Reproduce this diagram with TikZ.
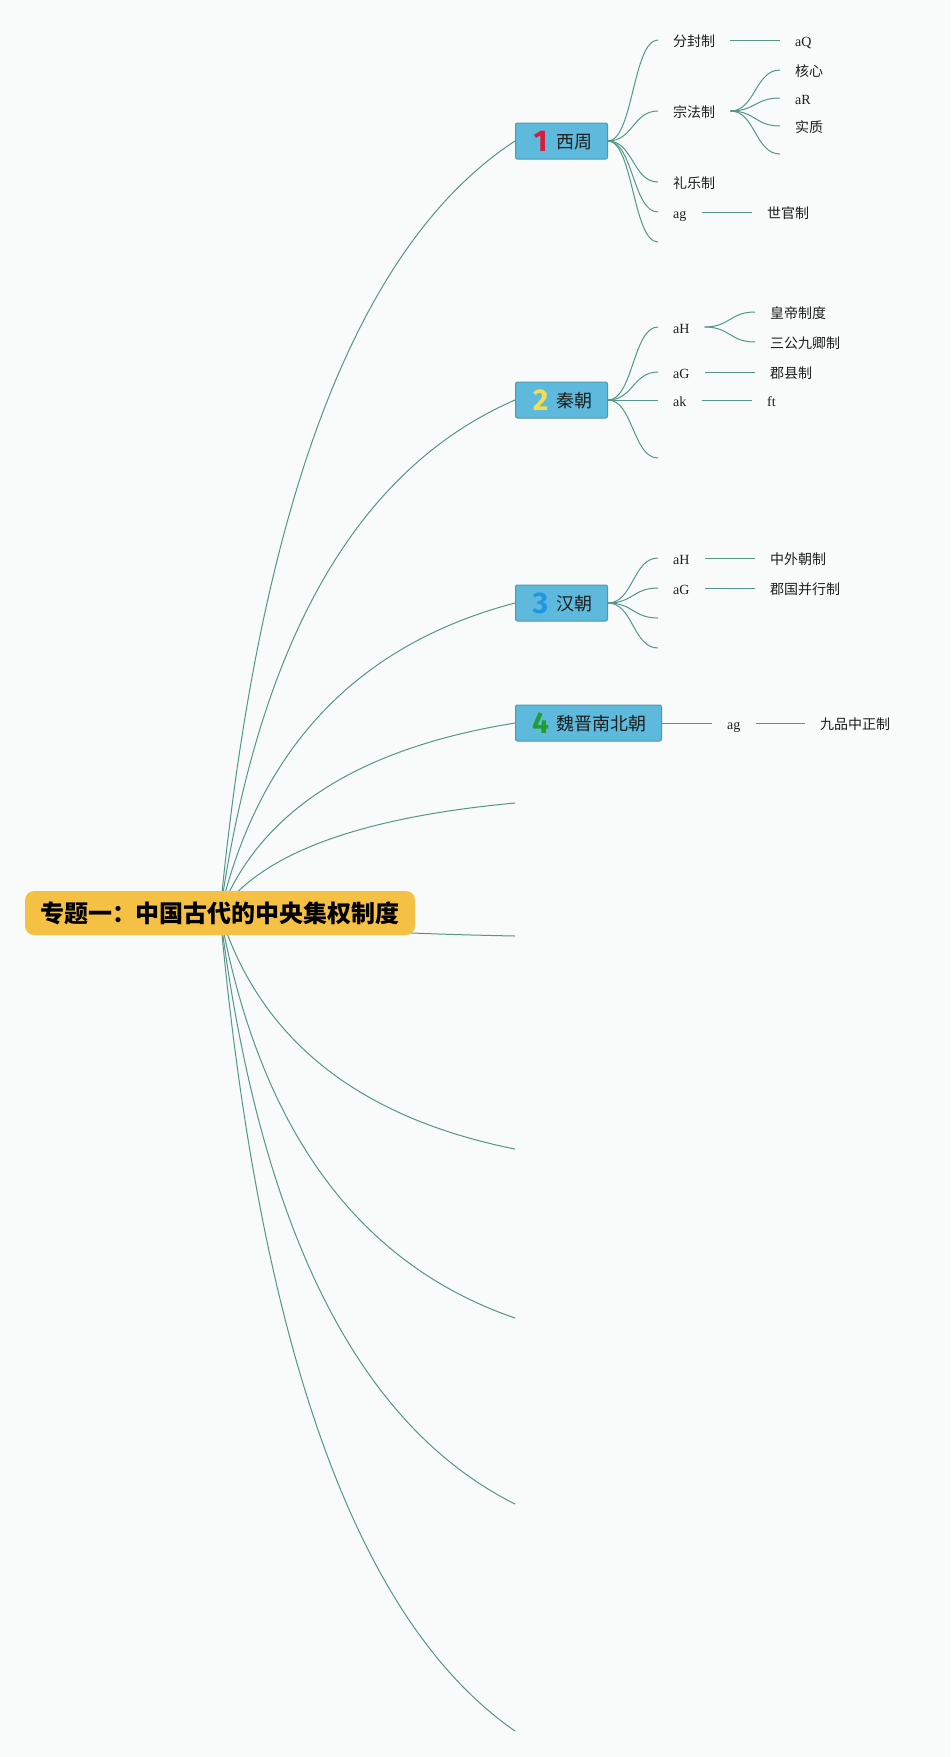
\documentclass[tikz,border=0pt]{standalone}
\usepackage{fontspec}
\setmainfont{Liberation Serif}
\newfontfamily\cjk{Noto Sans CJK SC}
\newfontfamily\numfont{Fira Sans}
\usetikzlibrary{calc,backgrounds}
\definecolor{bgcol}{RGB}{249,250,250}
\definecolor{linecol}{RGB}{84,150,136}
\definecolor{rootfill}{RGB}{245,193,68}
\definecolor{topfill}{RGB}{94,186,220}
\definecolor{topdraw}{RGB}{78,154,170}
\definecolor{textcol}{RGB}{30,30,30}
\definecolor{numred}{RGB}{222,24,58}
\definecolor{numyellow}{RGB}{243,221,82}
\definecolor{numblue}{RGB}{32,150,228}
\definecolor{numgreen}{RGB}{34,158,46}
\newcommand{\topic}[3]{\makebox[20pt]{\raisebox{-3.2pt}{\numfont\bfseries\fontsize{30pt}{30pt}\selectfont\color{#1}#2}}\hspace{6pt}#3}
\tikzset{
  trunk/.style={to path={.. controls ($(\tikztostart)!.1333!(\tikztostart -| \tikztotarget) + (\tikztostart)!.5333!(\tikztostart |- \tikztotarget) - (\tikztostart)$) and ($(\tikztostart)!.4667!(\tikztostart -| \tikztotarget) + (\tikztostart)!.8667!(\tikztostart |- \tikztotarget) - (\tikztostart)$) .. (\tikztotarget)}},
  branch/.style={to path={.. controls ($(\tikztostart)!.5!(\tikztostart -| \tikztotarget)$) and ($(\tikztotarget)!.5!(\tikztotarget -| \tikztostart)$) .. (\tikztotarget)}},
  link/.style={draw=linecol,line width=1pt}
}
\begin{document}
\begin{tikzpicture}[x=1pt,y=-1pt,
  rootbox/.style={fill=rootfill,rounded corners=9pt,minimum width=390pt,minimum height=44pt,inner xsep=15pt,text height=21.5pt,text depth=2pt,text=black,font=\cjk\bfseries\fontsize{24pt}{28pt}\selectfont},
  topbox/.style={anchor=west,fill=topfill,draw=topdraw,line width=1pt,rounded corners=2pt,minimum height=36pt,inner xsep=15pt,text height=16.5pt,text depth=1.5pt,text=textcol,font=\cjk\fontsize{18pt}{22pt}\selectfont},
  leaf/.style={anchor=west,inner xsep=15pt,inner ysep=3pt,text height=13pt,text depth=0.5pt,text=textcol,font=\cjk\fontsize{14pt}{17pt}\selectfont},
  latin/.style={leaf,font=\fontsize{14pt}{17pt}\selectfont}]
\useasboundingbox (0,0) rectangle (951,1757);

\node[rootbox] at (220,913) (root) {专题一：中国古代的中央集权制度};

\node[topbox] at (515,141) (xz) {\topic{numred}{1}{西周}};
\node[topbox] at (515,400) (qin) {\topic{numyellow}{2}{秦朝}};
\node[topbox] at (515,603) (han) {\topic{numblue}{3}{汉朝}};
\node[topbox] at (515,723) (wj) {\topic{numgreen}{4}{魏晋南北朝}};
\coordinate (e1) at (515,803);
\coordinate (e2) at (515,936);
\coordinate (e3) at (515,1149);
\coordinate (e4) at (515,1318);
\coordinate (e5) at (515,1504);
\coordinate (e6) at (515,1731);

\node[leaf] at (658,40) (fenfeng) {分封制};
\node[leaf] at (658,111) (zongfa) {宗法制};
\node[leaf] at (658,182) (liyue) {礼乐制};
\node[latin] at (658,212) (xzag) {ag};
\coordinate (xze) at (658,242);
\node[latin] at (780,40) (aQ) {aQ};
\node[leaf] at (780,70) (hexin) {核心};
\node[latin] at (780,98) (aR) {aR};
\node[leaf] at (780,126) (shizhi) {实质};
\coordinate (zfe) at (780,154);
\node[leaf] at (752,212) (shiguan) {世官制};

\node[latin] at (658,327) (qinaH) {aH};
\node[latin] at (658,372) (qinaG) {aG};
\node[latin] at (658,400) (qinak) {ak};
\coordinate (qine) at (658,458);
\node[leaf] at (755,312) (huangdi) {皇帝制度};
\node[leaf] at (755,342) (sangong) {三公九卿制};
\node[leaf] at (755,372) (junxian) {郡县制};
\node[latin] at (752,400) (ft) {ft};

\node[latin] at (658,558) (hanaH) {aH};
\node[latin] at (658,588) (hanaG) {aG};
\coordinate (hane1) at (658,618);
\coordinate (hane2) at (658,648);
\node[leaf] at (755,558) (zhongwai) {中外朝制};
\node[leaf] at (755,588) (junguo) {郡国并行制};

\node[latin] at (712,723) (wjag) {ag};
\node[leaf] at (805,723) (jiupin) {九品中正制};

\begin{pgfonlayer}{background}
\fill[bgcol] (0,0) rectangle (951,1757);
\draw[link] (root.center) edge[trunk] (xz.west) edge[trunk] (qin.west) edge[trunk] (han.west) edge[trunk] (wj.west)
  edge[trunk] (e1) edge[trunk] (e2) edge[trunk] (e3) edge[trunk] (e4) edge[trunk] (e5) edge[trunk] (e6);
\draw[link] (xz.east) edge[branch] (fenfeng.west) edge[branch] (zongfa.west) edge[branch] (liyue.west) edge[branch] (xzag.west) edge[branch] (xze);
\draw[link] (fenfeng.east) edge[branch] (aQ.west);
\draw[link] (zongfa.east) edge[branch] (hexin.west) edge[branch] (aR.west) edge[branch] (shizhi.west) edge[branch] (zfe);
\draw[link] (xzag.east) edge[branch] (shiguan.west);
\draw[link] (qin.east) edge[branch] (qinaH.west) edge[branch] (qinaG.west) edge[branch] (qinak.west) edge[branch] (qine);
\draw[link] (qinaH.east) edge[branch] (huangdi.west) edge[branch] (sangong.west);
\draw[link] (qinaG.east) edge[branch] (junxian.west);
\draw[link] (qinak.east) edge[branch] (ft.west);
\draw[link] (han.east) edge[branch] (hanaH.west) edge[branch] (hanaG.west) edge[branch] (hane1) edge[branch] (hane2);
\draw[link] (hanaH.east) edge[branch] (zhongwai.west);
\draw[link] (hanaG.east) edge[branch] (junguo.west);
\draw[link] (wj.east) edge[branch] (wjag.west);
\draw[link] (wjag.east) edge[branch] (jiupin.west);
\end{pgfonlayer}
\end{tikzpicture}
\end{document}
